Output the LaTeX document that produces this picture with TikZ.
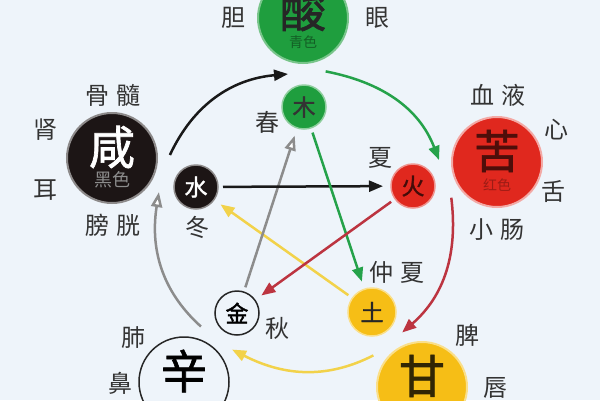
\documentclass[tikz,border=0pt]{standalone}
\usepackage{fontspec}
\setmainfont{Noto Sans CJK SC}
\newfontfamily\heavy[FakeBold=1.5]{Noto Sans CJK SC}
\usetikzlibrary{arrows.meta}

\definecolor{bgblue}{HTML}{EEF4FA}
\definecolor{woodgreen}{HTML}{1F9E3E}
\definecolor{firered}{HTML}{E0281E}
\definecolor{earthyellow}{HTML}{F6BE16}
\definecolor{waterblack}{HTML}{1C1515}
\definecolor{arcgreen}{HTML}{25A24A}
\definecolor{arcred}{HTML}{BC3440}
\definecolor{arcyellow}{HTML}{F2D24A}
\definecolor{arcgray}{HTML}{8C8C8C}

\def\dbig{90pt}
\def\dsmall{44pt}
\def\gap{\hspace{8pt}}

\tikzset{
  bigcirc/.style={circle, minimum size=\dbig, inner sep=0pt, outer sep=13pt, line width=2pt},
  smallcirc/.style={circle, minimum size=\dsmall, inner sep=0pt, outer sep=5pt, line width=1.5pt,
    font=\heavy\fontsize{23}{23}\selectfont},
  bigchar/.style={font=\heavy\fontsize{46}{46}\selectfont, inner sep=0pt},
  subchar/.style={font=\fontsize{14}{14}\selectfont, inner sep=0pt},
  organ/.style={font=\fontsize{24}{24}\selectfont, text=black!80, inner sep=0pt},
  cycle/.style={line width=2.5pt, -{Triangle[length=14pt,width=11pt]}},
  ctrl/.style={line width=2.5pt, -{Triangle[length=14pt,width=11pt]}, shorten >=3pt},
  hollow/.style={-{Triangle[length=15pt,width=11pt,fill=white]}},
}

\begin{document}
\begin{tikzpicture}[x=1pt,y=-1pt]
    \clip (0,0) rectangle (600,400);
    \fill[bgblue] (0,0) rectangle (600,400);

    % tastes
    \node[bigcirc, fill=woodgreen, draw=woodgreen!60] (suan) at (303,18) {};
    \node[bigcirc, fill=waterblack, draw=waterblack!50] (xian) at (112,158) {};
    \node[bigcirc, fill=firered, draw=firered!40] (ku) at (497,162) {};
    \node[bigcirc, fill=earthyellow, draw=earthyellow!50] (gan) at (422,387) {};
    \node[bigcirc, fill=bgblue, draw=black!85, line width=1.5pt] (xin) at (184,382) {};

    \node[bigchar, text=black!85] (suanc) at (303,10) {酸};
    \node[subchar, text=woodgreen!60!black] (suans) at (303,42) {青色};
    \node[bigchar, text=white] (xianc) at (112,147) {咸};
    \node[subchar, text=black!45, font=\fontsize{18}{18}\selectfont] (xians) at (112,180) {黑色};
    \node[bigchar, text=firered!35!black] (kuc) at (497,151) {苦};
    \node[subchar, text=firered!70!black] (kus) at (497,185) {红色};
    \node[bigchar, text=earthyellow!20!black] (ganc) at (422,376) {甘};
    \node[bigchar, text=black] (xinc) at (184,371) {辛};

    % elements
    \node[smallcirc, fill=woodgreen, draw=woodgreen!50, text=black!80] (mu) at (304,107) {木};
    \node[smallcirc, fill=waterblack, draw=waterblack!50, text=white] (shui) at (196,187) {水};
    \node[smallcirc, fill=firered, draw=firered!50, text=firered!30!black] (huo) at (413,186) {火};
    \node[smallcirc, fill=earthyellow, draw=earthyellow!50, minimum size=48pt, text=black!85] (tu) at (372,312) {土};
    \node[smallcirc, fill=bgblue, draw=black!85, text=black] (jin) at (237,313) {金};

    % organs and seasons
    \node[organ] (dan) at (233,18) {胆};
    \node[organ] (yan) at (377,18) {眼};
    \node[organ] (chun) at (267,122) {春};
    \node[organ] (gusui) at (113,95) {骨\gap 髓};
    \node[organ] (shen) at (45,130) {肾};
    \node[organ] (er) at (45,190) {耳};
    \node[organ] (pangguang) at (113,225) {膀\gap 胱};
    \node[organ] (dong) at (197,227) {冬};
    \node[organ] (xueye) at (498,95) {血\gap 液};
    \node[organ] (xin2) at (556,130) {心};
    \node[organ] (she) at (553,192) {舌};
    \node[organ] (xiaochang) at (497,230) {小\gap 肠};
    \node[organ] (xia) at (380,158) {夏};
    \node[organ] (zhongxia) at (397,272) {仲\gap 夏};
    \node[organ] (qiu) at (277,328) {秋};
    \node[organ] (fei) at (133,338) {肺};
    \node[organ] (bi) at (120,383) {鼻};
    \node[organ] (pi) at (467,335) {脾};
    \node[organ] (chunlip) at (495,388) {唇};

    % generating cycle
    \draw[cycle, black!90] (xian.3) to[out=65, in=185] (suan.-105);
    \draw[cycle, arcgreen] (suan.-67) to[out=-11, in=111] (ku.178);
    \draw[cycle, arcred] (ku.-142) to[out=-83, in=41] (gan.110);
    \draw[cycle, arcyellow] (gan.147) to[out=-153, in=-27] (xin.34);
    \draw[cycle, arcgray, hollow] (xin.73) to[out=138, in=-99] (xian.-36);

    % controlling star
    \draw[ctrl, arcyellow] (tu) -- (shui);
    \draw[ctrl, arcgray, hollow] (jin) -- (mu);
    \draw[ctrl, black!90] (shui) -- (huo);
    \draw[ctrl, arcgreen] (mu) -- (tu);
    \draw[ctrl, arcred] (huo) -- (jin);
\end{tikzpicture}
\end{document}
